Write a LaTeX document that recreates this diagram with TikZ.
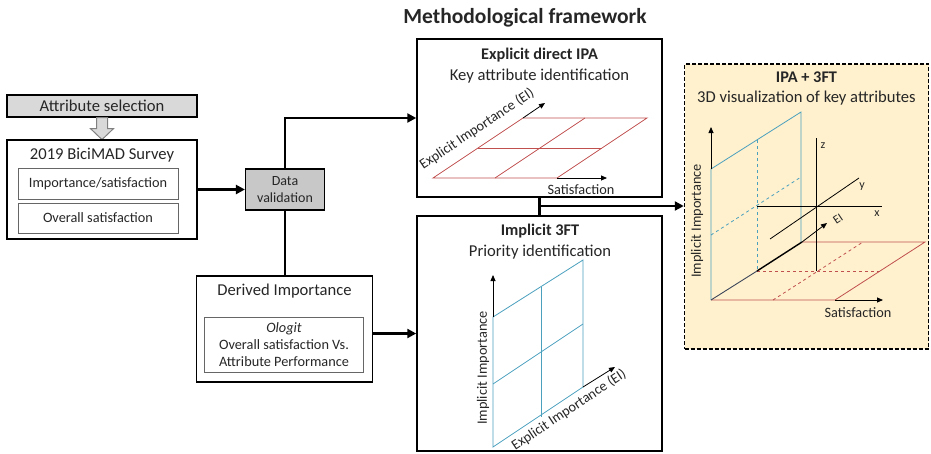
\documentclass[tikz,border=0pt]{standalone}
\usepackage{fontspec}
\setmainfont{Carlito}
\usetikzlibrary{arrows.meta,positioning}
\definecolor{txt}{RGB}{38,38,38}
\definecolor{boxgray}{RGB}{217,217,217}
\definecolor{valgray}{RGB}{200,200,200}
\definecolor{gridred}{RGB}{192,80,77}
\definecolor{gridteal}{RGB}{75,160,190}
\definecolor{ipafill}{RGB}{255,241,206}
\definecolor{eiline}{RGB}{60,70,90}
\begin{document}
\begin{tikzpicture}[x=1pt,y=-1pt, every node/.style={text=txt,inner sep=0pt},
box/.style={draw=black,line width=1.5pt},
graybox/.style={draw=black,line width=1.2pt,fill=boxgray},
innerbox/.style={draw=gray!80!black,line width=0.8pt},
dashbox/.style={draw=black,line width=1.5pt,dash pattern=on 4pt off 2pt,fill=ipafill},
conn/.style={draw=black,line width=2.8pt,-{Triangle[length=9pt,width=9pt]}},
plainconn/.style={draw=black,line width=2.8pt},
hollow/.style={draw=gray,line width=1pt,fill=boxgray},
axis/.style={draw=black,line width=0.8pt,-{Triangle[length=6pt,width=5pt]}},
redgrid/.style={draw=gridred,line width=0.8pt},
tealgrid/.style={draw=gridteal,line width=0.8pt},
blackline/.style={draw=black,line width=0.8pt},
headfont/.style={font=\fontsize{16.6}{19}\selectfont},
boldfont/.style={font=\fontsize{16.3}{19}\selectfont\bfseries},
smallfont/.style={font=\fontsize{14.3}{17}\selectfont},
tinyfont/.style={font=\fontsize{12}{14}\selectfont}]
\useasboundingbox (0,0) rectangle (931,453);

\node[font=\fontsize{21.5}{25}\selectfont\bfseries] (title) at (525,18) {Methodological framework};

\node[graybox,minimum width=190pt,minimum height=22pt,headfont] (attr) at (102,106) {Attribute selection};
\draw[hollow] ([xshift=-5.5pt]attr.south) -- ++(11,0) -- ++(0,11) -- ++(6,0) -- ++(-11.5,11) -- ++(-11.5,-11) -- ++(6,0) -- cycle;
\node[box,minimum width=190pt,minimum height=99pt] (survey) at (102,189.5) {};
\node[headfont] (surveyhead) at (102,155) {2019 BiciMAD Survey};
\node[innerbox,minimum width=160pt,minimum height=31pt,smallfont] (impsat) at (98,183.5) {Importance/satisfaction};
\node[innerbox,minimum width=160pt,minimum height=30pt,smallfont] (ovrsat) at (98,218) {Overall satisfaction};

\node[graybox,fill=valgray,minimum width=79pt,minimum height=41pt,align=center,font=\fontsize{14}{17}\selectfont] (valid) at (285,189.5) {Data\\validation};

\node[box,minimum width=176pt,minimum height=106pt] (derived) at (284.5,329) {};
\node[headfont] (derivedhead) at (284.5,291) {Derived Importance};
\node[innerbox,minimum width=159pt,minimum height=55pt,align=center,smallfont] (ologit) at (284,344.5) {\textit{Ologit}\\Overall satisfaction Vs.\\Attribute Performance};

\node[box,minimum width=245pt,minimum height=158pt] (explicit) at (539.5,118) {};
\node[boldfont] (explicithead) at (539.5,55) {Explicit direct IPA};
\node[headfont] (explicitsub) at (539.5,76) {Key attribute identification};
\draw[redgrid] (433,178) -- (557,178) -- (647,118) -- (523,118) -- cycle;
\draw[redgrid] (478,148) -- (602,148);
\draw[redgrid] (495,178) -- (585,118);
\draw[axis] (557,178) -- (607,178);
\draw[axis] (523,118) -- (545,103);
\node[smallfont,rotate=33.7] (eilabelA) at (477,129) {Explicit Importance (EI)};
\node[smallfont] (satlabelA) at (581,190) {Satisfaction};

\node[box,minimum width=245pt,minimum height=235pt] (implicit) at (539.5,333.5) {};
\node[boldfont] (implicithead) at (540,231) {Implicit 3FT};
\node[headfont] (implicitsub) at (540,252) {Priority identification};
\draw[tealgrid] (493,447) -- (493,317) -- (583,260) -- (583,387) -- cycle;
\draw[tealgrid] (541,287) -- (541,417);
\draw[tealgrid] (493,384) -- (583,324);
\draw[axis] (493,317) -- (493,275);
\draw[axis] (583,387) -- (615,367);
\node[smallfont,rotate=90] (iilabelB) at (483,368) {Implicit Importance};
\node[smallfont,rotate=33.7] (eilabelB) at (569,410) {Explicit Importance (EI)};

\node[dashbox,minimum width=244pt,minimum height=285pt] (ipa) at (806.5,206.5) {};
\node[boldfont] (ipahead) at (806.5,77) {IPA + 3FT};
\node[headfont] (ipasub) at (806.5,98) {3D visualization of key attributes};
\draw[redgrid] (711,300) -- (835,300) -- (925,242) -- (802,242);
\draw[redgrid,dashed] (757,271) -- (880,271);
\draw[redgrid,dashed] (773,300) -- (863,242);
\draw[axis] (835,300) -- (883,300);
\draw[tealgrid] (711,300) -- (711,169) -- (801,112) -- (801,242);
\draw[tealgrid,dashed] (757,140) -- (757,271);
\draw[tealgrid,dashed] (711,235) -- (801,177);
\draw[axis] (711,169) -- (711,127);
\draw[blackline] (816,138) -- (816,271);
\draw[blackline] (757,206) -- (882,206);
\draw[blackline] (770,239) -- (859,178);
\draw[draw=eiline,line width=0.9pt] (711,300) -- (757,271);
\draw[draw=black,line width=1.4pt] (757,271) -- (802,242);
\draw[axis] (802,242) -- (827,223);
\node[tinyfont] (zlabel) at (823,146) {z};
\node[tinyfont] (ylabel) at (862,187) {y};
\node[tinyfont] (xlabel) at (877,214) {x};
\node[tinyfont,rotate=33.7] (eilabelC) at (838,219) {EI};
\node[smallfont,rotate=90] (iilabelC) at (697,221) {Implicit Importance};
\node[smallfont] (satlabelC) at (858,313) {Satisfaction};

\draw[conn] (survey) -- (valid);
\draw[conn] (valid.north) |- (explicit.west);
\draw[plainconn] (valid.south) -- (valid.south |- derived.north);
\draw[conn] (derived.east |- implicit.west) -- (implicit.west);
\draw[plainconn] (explicit.south) -- (implicit.north);
\coordinate (joint) at (540,206);
\draw[conn] (joint) -- (joint -| ipa.west);
\end{tikzpicture}
\end{document}
